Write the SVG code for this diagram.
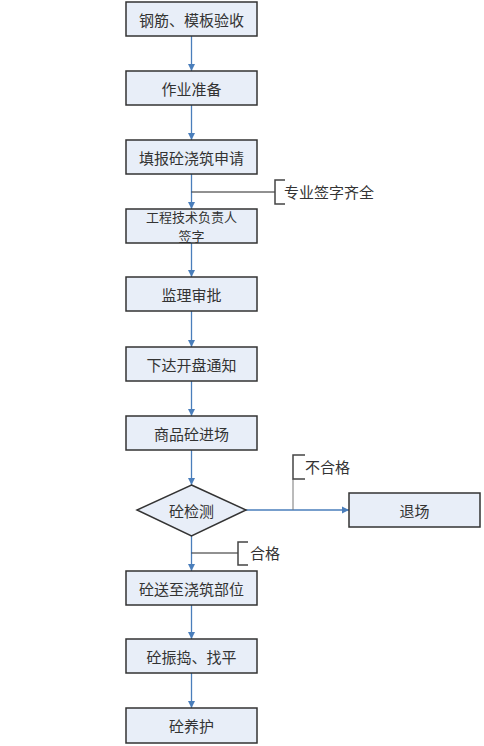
<svg xmlns="http://www.w3.org/2000/svg" width="484" height="746" viewBox="0 0 484 746">
<defs>
<marker id="ah" markerWidth="8" markerHeight="8" refX="7" refY="4" orient="auto" markerUnits="userSpaceOnUse">
<path d="M0,0.5 L7,4 L0,7.5 Z" fill="#4A7EBB"/>
</marker>
<style>
.box{fill:#E8EEF8;stroke:#333;stroke-width:1.5}
.t{font-family:"Noto Sans CJK SC","Noto Sans",sans-serif;font-size:15px;fill:#333;text-anchor:middle;dominant-baseline:central}
.t2{font-size:13px}
.lbl{font-family:"Noto Sans CJK SC","Noto Sans",sans-serif;font-size:15px;fill:#333;dominant-baseline:central}
.arr{stroke:#4A7EBB;stroke-width:1.3;fill:none;marker-end:url(#ah)}
.br{stroke:#444;stroke-width:1.5;fill:none}
.ln{stroke:#222;stroke-width:1;fill:none}
</style>
</defs>
<rect width="484" height="746" fill="#fff"/>
<g id="connectors">
<line class="arr" x1="191.5" y1="36" x2="191.5" y2="71"/>
<line class="arr" x1="191.5" y1="105" x2="191.5" y2="140"/>
<line class="arr" x1="191.5" y1="174" x2="191.5" y2="209"/>
<line class="arr" x1="191.5" y1="243" x2="191.5" y2="277"/>
<line class="arr" x1="191.5" y1="311" x2="191.5" y2="347"/>
<line class="arr" x1="191.5" y1="381" x2="191.5" y2="416"/>
<line class="arr" x1="191.5" y1="450" x2="191.5" y2="485"/>
<line class="arr" x1="191.5" y1="536" x2="191.5" y2="571"/>
<line class="arr" x1="191.5" y1="605" x2="191.5" y2="639"/>
<line class="arr" x1="191.5" y1="673" x2="191.5" y2="708"/>
<line class="arr" x1="246" y1="510" x2="349" y2="510"/>
</g>
<g id="label-zhuanye">
<line class="ln" x1="191.5" y1="192" x2="275" y2="192"/>
<path class="br" d="M285,180 H275 V204 H285"/>
<text class="lbl" x="284" y="191">专业签字齐全</text>
</g>
<g id="label-buhege">
<line x1="293" y1="479" x2="293" y2="510" stroke="#777" stroke-width="1"/>
<path class="br" d="M305,455 H293 V479 H305"/>
<text class="lbl" x="305" y="466">不合格</text>
</g>
<g id="label-hege">
<line class="ln" x1="191.5" y1="553" x2="238" y2="553"/>
<path class="br" d="M248,542 H238 V565 H248"/>
<text class="lbl" x="250" y="552">合格</text>
</g>
<g id="n1"><rect class="box" x="126" y="2" width="131" height="34"/><text class="t" x="191.5" y="19">钢筋、模板验收</text></g>
<g id="n2"><rect class="box" x="126" y="71" width="131" height="34"/><text class="t" x="191.5" y="88">作业准备</text></g>
<g id="n3"><rect class="box" x="126" y="140" width="131" height="34"/><text class="t" x="191.5" y="157">填报砼浇筑申请</text></g>
<g id="n4"><rect class="box" x="126" y="209" width="131" height="34"/><text class="t t2" x="191.5" y="216">工程技术负责人</text><text class="t t2" x="191.5" y="235">签字</text></g>
<g id="n5"><rect class="box" x="126" y="277" width="131" height="34"/><text class="t" x="191.5" y="294">监理审批</text></g>
<g id="n6"><rect class="box" x="126" y="347" width="131" height="34"/><text class="t" x="191.5" y="364">下达开盘通知</text></g>
<g id="n7"><rect class="box" x="126" y="416" width="131" height="34"/><text class="t" x="191.5" y="433">商品砼进场</text></g>
<g id="n8"><polygon class="box" points="191.5,485 246,510 191.5,536 137,510"/><text class="t" x="191.5" y="510">砼检测</text></g>
<g id="n9"><rect class="box" x="349" y="493" width="131" height="34"/><text class="t" x="414.5" y="510">退场</text></g>
<g id="n10"><rect class="box" x="126" y="571" width="131" height="34"/><text class="t" x="191.5" y="588">砼送至浇筑部位</text></g>
<g id="n11"><rect class="box" x="126" y="639" width="131" height="34"/><text class="t" x="191.5" y="656">砼振捣、找平</text></g>
<g id="n12"><rect class="box" x="126" y="708" width="131" height="35"/><text class="t" x="191.5" y="725">砼养护</text></g>
</svg>
